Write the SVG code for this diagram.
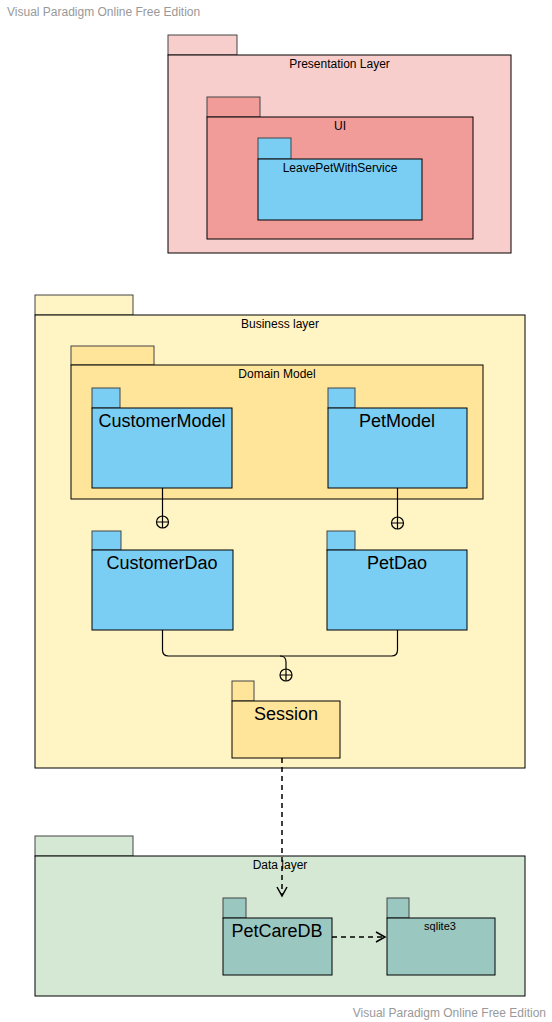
<svg xmlns="http://www.w3.org/2000/svg" width="552" height="1022" viewBox="0 0 552 1022">
<style>
.s{stroke:#000;stroke-width:1}
.t{stroke:#444;stroke-width:1}
.l{font-family:"Liberation Sans",Arial,sans-serif;font-size:12px;fill:#000;text-anchor:middle}
.b{font-family:"Liberation Sans",Arial,sans-serif;font-size:18px;fill:#000;text-anchor:middle}
.w{font-family:"Liberation Sans",Arial,sans-serif;font-size:12px;fill:#999}
.c{fill:none;stroke:#000;stroke-width:1.2}
.d{fill:none;stroke:#000;stroke-width:1.5;stroke-dasharray:5,4}
</style>
<defs>
<marker id="open" markerWidth="12" markerHeight="12" refX="10" refY="6" orient="auto" markerUnits="userSpaceOnUse">
<path d="M1,1 L10,6 L1,11" fill="none" stroke="#000" stroke-width="1.5"/>
</marker>
</defs>
<rect width="552" height="1022" fill="#fff"/>
<text class="w" x="7" y="16">Visual Paradigm Online Free Edition</text>
<text class="w" x="546" y="1017" text-anchor="end">Visual Paradigm Online Free Edition</text>

<g id="presentation-layer">
<rect class="t" x="168" y="35" width="69" height="20" fill="#F8CECC"/>
<rect class="s" x="168" y="55" width="343" height="198" fill="#F8CECC"/>
<text class="l" x="339.5" y="68">Presentation Layer</text>
</g>
<g id="ui">
<rect class="t" x="207" y="97" width="53" height="20" fill="#F19C99"/>
<rect class="s" x="207" y="117" width="266" height="122" fill="#F19C99"/>
<text class="l" x="340" y="130">UI</text>
</g>
<g id="leave-pet-with-service">
<rect class="t" x="258" y="138" width="33" height="21" fill="#7ACEF4"/>
<rect class="s" x="258" y="159" width="164" height="61" fill="#7ACEF4"/>
<text class="l" x="340" y="172">LeavePetWithService</text>
</g>

<g id="business-layer">
<rect class="t" x="35" y="295" width="98" height="20" fill="#FFF4C3"/>
<rect class="s" x="35" y="315" width="490" height="453" fill="#FFF4C3"/>
<text class="l" x="280" y="328">Business layer</text>
</g>
<g id="domain-model">
<rect class="t" x="71" y="346" width="83" height="19" fill="#FFE599"/>
<rect class="s" x="71" y="365" width="412" height="134" fill="#FFE599"/>
<text class="l" x="277" y="378">Domain Model</text>
</g>
<g id="customer-model">
<rect class="t" x="92" y="388" width="28" height="20" fill="#7ACEF4"/>
<rect class="s" x="92" y="408" width="140" height="80" fill="#7ACEF4"/>
<text class="b" x="162" y="427">CustomerModel</text>
</g>
<g id="pet-model">
<rect class="t" x="328" y="388" width="27" height="20" fill="#7ACEF4"/>
<rect class="s" x="328" y="408" width="139" height="80" fill="#7ACEF4"/>
<text class="b" x="397" y="427">PetModel</text>
</g>
<g id="customer-dao">
<rect class="t" x="92" y="531" width="29" height="19" fill="#7ACEF4"/>
<rect class="s" x="92" y="550" width="141" height="80" fill="#7ACEF4"/>
<text class="b" x="162" y="569">CustomerDao</text>
</g>
<g id="pet-dao">
<rect class="t" x="327" y="531" width="28" height="19" fill="#7ACEF4"/>
<rect class="s" x="327" y="550" width="140" height="80" fill="#7ACEF4"/>
<text class="b" x="397" y="569">PetDao</text>
</g>
<g id="session">
<rect class="t" x="232" y="681" width="22" height="20" fill="#FFE599"/>
<rect class="s" x="232" y="701" width="108" height="57" fill="#FFE599"/>
<text class="b" x="286" y="720">Session</text>
</g>

<g id="data-layer">
<rect class="t" x="35" y="836" width="98" height="20" fill="#D5E8D4"/>
<rect class="s" x="35" y="856" width="490" height="140" fill="#D5E8D4"/>
<text class="l" x="280" y="869">Data layer</text>
</g>
<g id="pet-care-db">
<rect class="t" x="223" y="898" width="23" height="20" fill="#9AC7BF"/>
<rect class="s" x="223" y="918" width="109" height="57" fill="#9AC7BF"/>
<text class="b" x="277" y="937">PetCareDB</text>
</g>
<g id="sqlite3">
<rect class="t" x="387" y="898" width="22" height="20" fill="#9AC7BF"/>
<rect class="s" x="387" y="918" width="108" height="57" fill="#9AC7BF"/>
<text class="l" x="440" y="930" style="font-size:11px">sqlite3</text>
</g>

<g id="connectors">
<path class="c" d="M162.5,488 V516"/>
<circle class="c" cx="162.5" cy="522" r="6"/>
<path class="c" d="M156.5,522 H168.5 M162.5,516 V528"/>
<path class="c" d="M397.5,488 V517"/>
<circle class="c" cx="397.5" cy="523" r="6"/>
<path class="c" d="M391.5,523 H403.5 M397.5,517 V529"/>
<path class="c" d="M162.5,630 V650 Q162.5,656 168.5,656 H280 Q286,656 286,662 V669"/>
<path class="c" d="M397.5,630 V650 Q397.5,656 391.5,656 H280"/>
<circle class="c" cx="286" cy="675" r="6"/>
<path class="c" d="M280,675 H292 M286,669 V681"/>
<path class="d" d="M282,758 V896" marker-end="url(#open)"/>
<path class="d" d="M332,937 H385" marker-end="url(#open)"/>
</g>
</svg>
